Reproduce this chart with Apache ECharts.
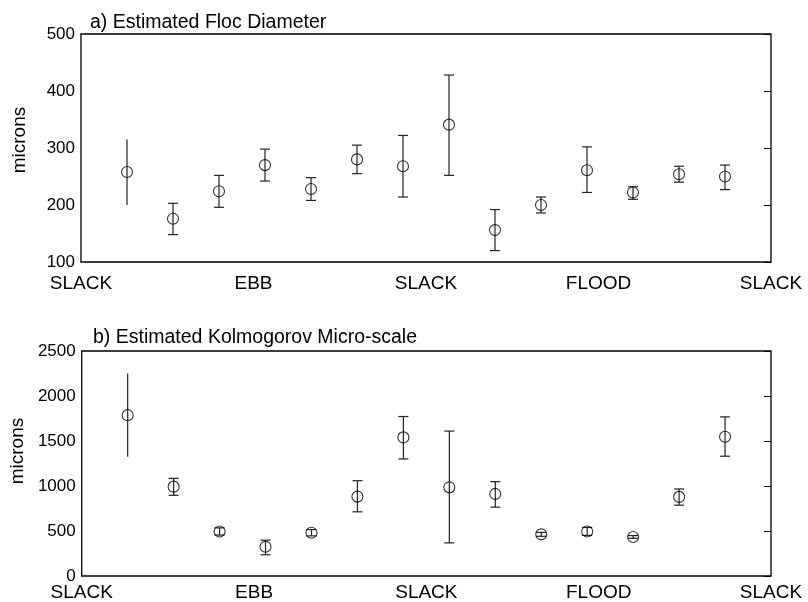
<!DOCTYPE html>
<html>
<head>
<meta charset="utf-8">
<script src="https://cdn.jsdelivr.net/npm/echarts@6/dist/echarts.min.js"></script>
<style>
html,body{margin:0;padding:0;background:#fff;}
#main{width:808px;height:602px;}
</style>
</head>
<body>
<div id="main"></div>
<script>
// ---- data ----
var positions = [1,2,3,4,5,6,7,8,9,10,11,12,13,14];
var tideLabels = ['SLACK','EBB','SLACK','FLOOD','SLACK'];

var flocMean = [258,176,224,270,228,280,268,341,156,200,261,222,254,250];
var flocLow  = [200,148,196,242,208,255,214,252,120,186,222,210,240,227];
var flocHigh = [315,203,252,298,248,305,322,428,192,214,302,232,268,270];

var kolMean = [1787,993,495,324,481,882,1540,985,912,463,495,434,879,1548];
var kolLow  = [1324,897,455,236,446,713,1301,368,765,441,451,419,787,1331];
var kolHigh = [2250,1085,535,398,516,1059,1772,1610,1048,485,539,449,967,1768];

var titleA = 'a) Estimated Floc Diameter';
var titleB = 'b) Estimated Kolmogorov Micro-scale';
var yName = 'microns';

function pts(mean){ return positions.map(function(p,i){ return [p, mean[i]]; }); }
function bars(low, high){ return positions.map(function(p,i){ return [p, low[i], high[i], i]; }); }

var font = 'Liberation Sans, Arial, sans-serif';

function errRender(params, api){
  var x = api.value(0), lo = api.value(1), hi = api.value(2), idx = api.value(3);
  var pLo = api.coord([x, lo]), pHi = api.coord([x, hi]);
  var cw = idx === 0 ? 0 : 5;
  var st = {stroke:'#222', lineWidth:1.2};
  var children = [
    {type:'line', shape:{x1:pLo[0], y1:pLo[1], x2:pHi[0], y2:pHi[1]}, style:st}
  ];
  if (cw > 0) {
    children.push({type:'line', shape:{x1:pLo[0]-cw, y1:pLo[1], x2:pLo[0]+cw, y2:pLo[1]}, style:st});
    children.push({type:'line', shape:{x1:pHi[0]-cw, y1:pHi[1], x2:pHi[0]+cw, y2:pHi[1]}, style:st});
  }
  return {type:'group', children:children};
}

function xAxisDef(gi, margin){
  return {
    type:'value', gridIndex:gi, min:0, max:15, interval:3.75,
    axisLine:{show:false}, axisTick:{show:false}, splitLine:{show:false},
    axisLabel:{
      margin:margin, color:'#000', fontSize:19, fontFamily:font,
      formatter:function(v){ return tideLabels[Math.round(v/3.75)] || ''; }
    }
  };
}
function yAxisLeft(gi, min, max, interval, pad){
  return {
    type:'value', gridIndex:gi, min:min, max:max, interval:interval, position:'left',
    name:yName, nameLocation:'middle', nameGap:52,
    nameTextStyle:{color:'#000', fontSize:19, fontFamily:font, padding:[0,0,0,pad]},
    axisLine:{show:false}, axisTick:{show:false}, splitLine:{show:false},
    axisLabel:{margin:6, color:'#000', fontSize:17, fontFamily:font,
      formatter:function(v){ return String(v); }}
  };
}
function yAxisRight(gi, min, max, interval){
  return {
    type:'value', gridIndex:gi, min:min, max:max, interval:interval, position:'right',
    axisLine:{show:false}, splitLine:{show:false},
    axisTick:{show:true, inside:true, length:7, lineStyle:{color:'#000', width:1}},
    axisLabel:{show:false}
  };
}

var chart = echarts.init(document.getElementById('main'), null, {renderer:'canvas'});
chart.setOption({
  animation:false,
  backgroundColor:'#fff',
  title:[
    {text:titleA, left:85, top:8, textStyle:{fontSize:19.5, fontWeight:'normal', color:'#000', fontFamily:font}},
    {text:titleB, left:88, top:323, textStyle:{fontSize:19.5, fontWeight:'normal', color:'#000', fontFamily:font}}
  ],
  grid:[
    {left:81, top:34, width:690, height:228, show:true, borderColor:'#000', borderWidth:1.3, backgroundColor:'transparent'},
    {left:81, top:351, width:690, height:227, show:true, borderColor:'#000', borderWidth:1.3, backgroundColor:'transparent'}
  ],
  xAxis:[xAxisDef(0, 12), xAxisDef(1, 7)],
  yAxis:[
    yAxisLeft(0, 100, 500, 100, 16),
    yAxisRight(0, 100, 500, 100),
    yAxisLeft(1, 0, 2500, 500, 25),
    yAxisRight(1, 0, 2500, 500)
  ],
  series:[
    {type:'custom', xAxisIndex:0, yAxisIndex:0, renderItem:errRender, data:bars(flocLow, flocHigh), encode:{x:0, y:[1,2]}, z:2},
    {type:'scatter', xAxisIndex:0, yAxisIndex:0, data:pts(flocMean), symbol:'circle', symbolSize:11,
      itemStyle:{color:'rgba(0,0,0,0)', borderColor:'#000', borderWidth:1.1}, z:3},
    {type:'custom', xAxisIndex:1, yAxisIndex:2, renderItem:errRender, data:bars(kolLow, kolHigh), encode:{x:0, y:[1,2]}, z:2},
    {type:'scatter', xAxisIndex:1, yAxisIndex:2, data:pts(kolMean), symbol:'circle', symbolSize:11,
      itemStyle:{color:'rgba(0,0,0,0)', borderColor:'#000', borderWidth:1.1}, z:3}
  ]
});
</script>
</body>
</html>
